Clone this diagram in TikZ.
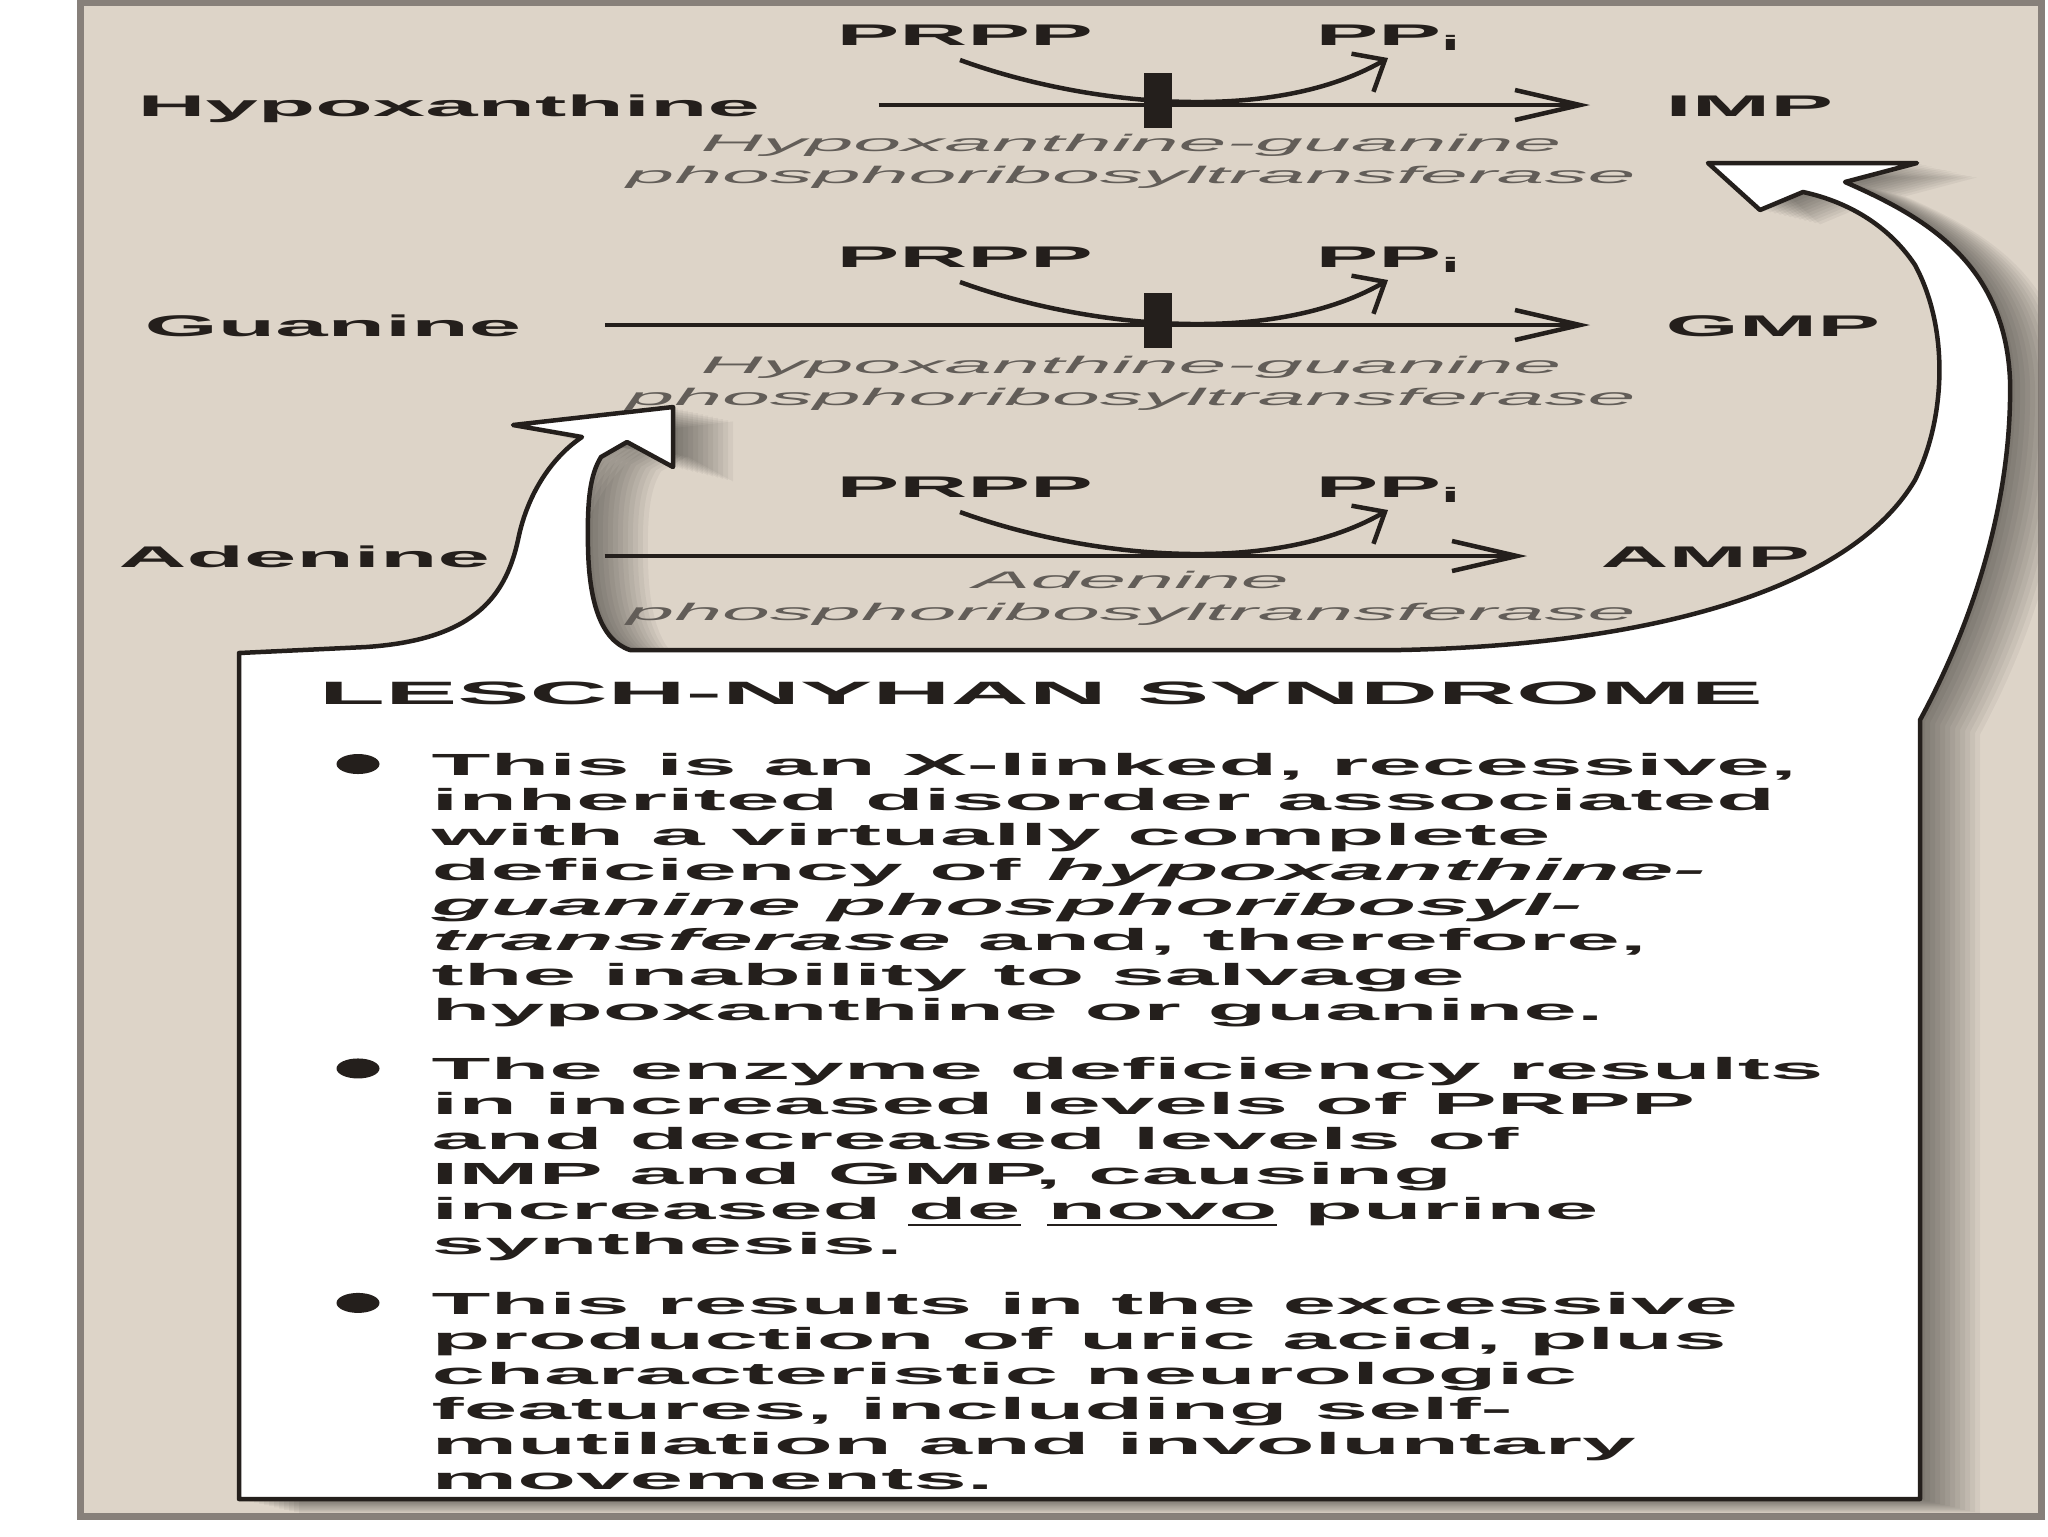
\documentclass[tikz,border=0pt]{standalone}
\usepackage{fontspec}
\setmainfont{Liberation Sans}[FakeStretch=3.15]
\newfontfamily\enzymefont{Liberation Sans}[FakeStretch=3.6]
\newfontfamily\titlefont{Liberation Sans}[FakeStretch=3.35]
\usepackage{xcolor}
\usetikzlibrary{positioning,arrows.meta,shapes.geometric}
\definecolor{panelbg}{RGB}{221,212,200}
\definecolor{panelrule}{RGB}{135,128,122}
\definecolor{inkdark}{RGB}{36,31,28}
\definecolor{enzgray}{RGB}{98,93,88}
\newcommand{\calloutpath}{(239,1499) -- (239,653) -- (366,647)
  .. controls (470,640) and (505,600) .. (518,540)
  .. controls (528,490) and (555,455) .. (582,437)
  -- (513,425) -- (673,407) -- (673,467) -- (627,442) -- (601,457)
  .. controls (590,475) and (587,500) .. (588,547)
  .. controls (589,600) and (600,640) .. (630,650) -- (1400,650)
  .. controls (1650,645) and (1850,590) .. (1915,480)
  .. controls (1945,420) and (1950,330) .. (1915,265)
  .. controls (1885,220) and (1840,200) .. (1803,192)
  -- (1760,210) -- (1708,163) -- (1917,163) -- (1845,182)
  .. controls (1920,215) and (2005,260) .. (2010,380)
  .. controls (2012,480) and (1985,600) .. (1920,720) -- (1920,1499) -- cycle}

\begin{document}
\begin{tikzpicture}[x=0.1mm, y=-0.1mm,
  metab/.style={font=\fontsize{8.5}{10}\selectfont\bfseries, text=inkdark, inner sep=0, text height=2.2mm, text depth=0pt},
  enzyme/.style={font=\enzymefont\fontsize{6.8}{9.1}\selectfont\itshape, text=enzgray, align=center, inner sep=0, anchor=north},
  rxn/.style={-{Straight Barb[length=6.5mm,width=3mm]}, line width=0.45mm, draw=inkdark},
  cofac/.style={-{Straight Barb[length=2.6mm,width=4.4mm]}, line width=0.45mm, draw=inkdark},
  blockbar/.style={fill=inkdark, minimum width=2.8mm, minimum height=5.5mm, inner sep=0},
  callout/.style={fill=white, draw=inkdark, line width=0.45mm, line join=round},
  note/.style={font=\fontsize{8.7}{9.96}\selectfont\bfseries, text=inkdark, inner sep=0, anchor=north west},
  dot/.style={ellipse, fill=inkdark, minimum width=4.3mm, minimum height=2mm, inner sep=0}]
\useasboundingbox (0,0) rectangle (2048,1536);
\fill[white] (0,0) rectangle (2048,1536);
\draw[fill=panelbg, draw=panelrule, line width=0.7mm] (80,2) rectangle (2041,1516);

% callout with its shadow
\begin{scope}
  \clip (82,4) rectangle (2038,1514);
  \foreach \k in {1,...,12}{
    \fill[black, opacity=0.045, shift={(5*\k,1.2*\k)}] \calloutpath; }
\end{scope}
\draw[callout] \calloutpath;

% hypoxanthine
\node[metab, anchor=base west] (hypox) at (137,116) {Hypoxanthine};
\node[metab, anchor=base west] (imp) at (1665,116) {IMP};
\node[metab, anchor=base west] (prppA) at (836,45) {PRPP};
\node[metab, anchor=base west] (ppiA) at (1315,45) {PP\textsubscript{i}};
\draw[rxn, shorten <=11.8mm, shorten >=7.5mm] (hypox) -- (imp);
\node[blockbar] (barA) at (1158,100) {};
\draw[cofac] ([xshift=12.4mm,yshift=-1.5mm]prppA.base west) to[out=-20,in=210,looseness=0.8] ([xshift=7.3mm,yshift=-1.3mm]ppiA.base west);
\node[enzyme] (hgprtA) at (1131,133) {Hypoxanthine-guanine\\phosphoribosyltransferase};

% guanine
\node[metab, anchor=base west] (guan) at (144,336) {Guanine};
\node[metab, anchor=base west] (gmp) at (1665,336) {GMP};
\node[metab, anchor=base west] (prppB) at (836,267) {PRPP};
\node[metab, anchor=base west] (ppiB) at (1315,267) {PP\textsubscript{i}};
\draw[rxn, shorten <=8.3mm, shorten >=7.5mm] (guan) -- (gmp);
\node[blockbar] (barB) at (1158,320) {};
\draw[cofac] ([xshift=12.4mm,yshift=-1.5mm]prppB.base west) to[out=-20,in=210,looseness=0.8] ([xshift=7.3mm,yshift=-1.3mm]ppiB.base west);
\node[enzyme] (hgprtB) at (1131,355) {Hypoxanthine-guanine\\phosphoribosyltransferase};

% adenine
\node[metab, anchor=base west] (aden) at (118,567) {Adenine};
\node[metab, anchor=base west] (amp) at (1600,567) {AMP};
\node[metab, anchor=base west] (prppC) at (836,497) {PRPP};
\node[metab, anchor=base west] (ppiC) at (1315,497) {PP\textsubscript{i}};
\draw[rxn, shorten <=11.4mm, shorten >=7.3mm] (aden) -- (amp);
\draw[cofac] ([xshift=12.4mm,yshift=-1.5mm]prppC.base west) to[out=-20,in=210,looseness=0.8] ([xshift=7.3mm,yshift=-1.3mm]ppiC.base west);
\node[enzyme] (aprt) at (1131,570) {Adenine\\phosphoribosyltransferase};

% box text
\node[font=\titlefont\fontsize{9.2}{11}\selectfont\bfseries, text=inkdark, inner sep=0, anchor=base] (title) at (1041,704) {LESCH-NYHAN SYNDROME};
\node[note] (note1) at (431,750) {\begin{tabular}{@{}l@{}}
  This is an X-linked, recessive,\\
  inherited disorder associated\\
  with a virtually complete\\
  deficiency of \textit{hypoxanthine-}\\
  \textit{guanine phosphoribosyl-}\\
  \textit{transferase} and, therefore,\\
  the inability to salvage\\
  hypoxanthine or guanine.\end{tabular}};
\node[note, below=2.3mm of note1.south west, anchor=north west] (note2) {\begin{tabular}{@{}l@{}}
  The enzyme deficiency results\\
  in increased levels of PRPP\\
  and decreased levels of\\
  IMP and GMP, causing\\
  increased \underline{de} \underline{novo} purine\\
  synthesis.\end{tabular}};
\node[note, below=2.3mm of note2.south west, anchor=north west] (note3) {\begin{tabular}{@{}l@{}}
  This results in the excessive\\
  production of uric acid, plus\\
  characteristic neurologic\\
  features, including self-\\
  mutilation and involuntary\\
  movements.\end{tabular}};
\foreach \n in {note1,note2,note3}
  \node[dot] at ([xshift=-7.3mm,yshift=-1.4mm]\n.north west) {};
\end{tikzpicture}
\end{document}
